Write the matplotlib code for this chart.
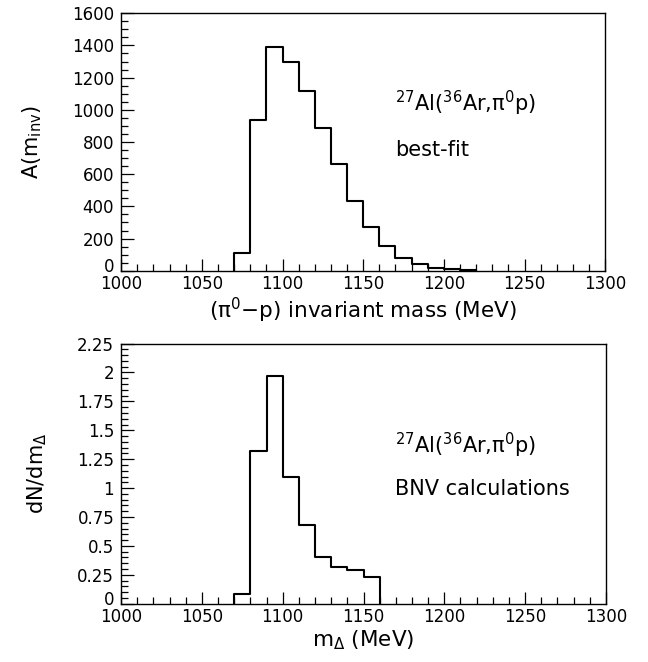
import numpy as np
import matplotlib.pyplot as plt
import matplotlib.transforms as mtransforms
from matplotlib.ticker import MultipleLocator

plt.rcParams['font.family'] = ['DejaVu Sans']
plt.rcParams['mathtext.fontset'] = 'dejavusans'

# bin edges (MeV) and contents
edges_top = [1070, 1080, 1090, 1100, 1110, 1120, 1130, 1140, 1150, 1160,
             1170, 1180, 1190, 1200, 1210, 1220]
counts_top = [110, 935, 1390, 1300, 1115, 885, 665, 435, 270, 155,
              80, 40, 20, 8, 3]

edges_bot = [1070, 1080, 1090, 1100, 1110, 1120, 1130, 1140, 1150, 1160]
counts_bot = [0.08, 1.32, 1.97, 1.10, 0.68, 0.40, 0.32, 0.29, 0.23]


def step_hist(ax, edges, vals):
    x = np.repeat(edges, 2)
    y = np.concatenate([[0], np.repeat(vals, 2), [0]])
    ax.plot(x, y, color='black', lw=1.5)


def style(ax, ymax, ymaj, ymin):
    ax.set_xlim(1000, 1300)
    ax.set_ylim(0, ymax)
    ax.xaxis.set_major_locator(MultipleLocator(50))
    ax.xaxis.set_minor_locator(MultipleLocator(10))
    ax.yaxis.set_major_locator(MultipleLocator(ymaj))
    ax.yaxis.set_minor_locator(MultipleLocator(ymin))
    ax.tick_params(which='both', direction='in', top=False, right=False,
                   labelsize=12)
    ax.tick_params(axis='x', pad=3)
    ax.tick_params(axis='y', pad=5)
    ax.tick_params(which='major', length=9, width=0.9)
    ax.tick_params(which='minor', length=5, width=0.9)
    for s in ax.spines.values():
        s.set_linewidth(1.0)


fig = plt.figure(figsize=(6.48, 6.62), dpi=100)
ax1 = fig.add_axes([0.187, 0.591, 0.747, 0.389])
ax2 = fig.add_axes([0.187, 0.088, 0.748, 0.393])

step_hist(ax1, edges_top, counts_top)
style(ax1, 1600, 200, 50)
ax1.set_xlabel('(π$^{0}$−p) invariant mass (MeV)', fontsize=15.5, labelpad=2)
ax1.set_ylabel(r'A(m$_{\rm inv}$)', fontsize=15, labelpad=20)
ax1.text(0.565, 0.65, r'$^{27}$Al($^{36}$Ar,π$^{0}$p)', transform=ax1.transAxes,
         fontsize=15, va='center')
ax1.text(0.565, 0.47, 'best-fit', transform=ax1.transAxes, fontsize=15,
         va='center')

step_hist(ax2, edges_bot, counts_bot)
style(ax2, 2.25, 0.25, 0.05)
ax2.yaxis.set_major_formatter(plt.FuncFormatter(lambda v, p: f'{v:g}'))
ax2.set_xlabel(r'm$_{\Delta}$ (MeV)', fontsize=15.5, labelpad=2)
ax2.set_ylabel(r'dN/dm$_{\Delta}$', fontsize=15, labelpad=20)
ax2.text(0.565, 0.61, r'$^{27}$Al($^{36}$Ar,π$^{0}$p)', transform=ax2.transAxes,
         fontsize=15, va='center')
ax2.text(0.565, 0.44, 'BNV calculations', transform=ax2.transAxes, fontsize=15,
         va='center')

# lift the "0" labels a little above the corner, as in the original
fig.canvas.draw()
lift = mtransforms.ScaledTranslation(0, 4 / 72, fig.dpi_scale_trans)
for ax in (ax1, ax2):
    for t in ax.yaxis.get_major_ticks():
        if t.label1.get_text() == '0':
            t.label1.set_transform(t.label1.get_transform() + lift)

fig.savefig('out.png', dpi=100)
